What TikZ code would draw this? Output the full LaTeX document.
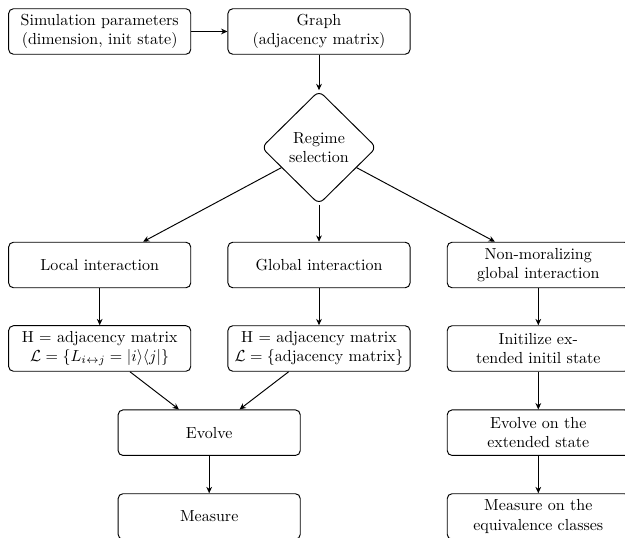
\documentclass[tikz,border=0pt]{standalone}
\usepackage{amsmath}
\usetikzlibrary{shapes.geometric,arrows.meta}
\begin{document}
\begin{tikzpicture}[x=0.625pt,y=-0.625pt,
  box/.style={draw,rectangle,rounded corners=3pt,minimum width=4cm,minimum height=1cm,align=center,semithick},
  regimebox/.style={draw,diamond,rounded corners=4pt,minimum width=72pt,minimum height=71pt,align=center,inner sep=0pt,semithick},
  arr/.style={-{Stealth[length=4pt,width=3.6pt]},semithick}]
\clip (0,0) rectangle (625,538);
\node[box] (sim) at (99.7,31.5) {Simulation parameters\\(dimension, init state)};
\node[box] (graph) at (319,31.5) {Graph\\(adjacency matrix)};
\node[regimebox] (regime) at (319,147.5) {Regime\\selection};
\node[box] (local) at (99.7,265) {Local interaction};
\node[box] (global) at (319,265) {Global interaction};
\node[box] (nonmor) at (538.3,265) {Non-moralizing\\global interaction};
\node[box] (hloc) at (99.7,348.5) {H $=$ adjacency matrix\\$\mathcal{L}=\{L_{i\leftrightarrow j}=|i\rangle\langle j|\}$};
\node[box] (hglob) at (319,348.5) {H $=$ adjacency matrix\\$\mathcal{L}=\{\text{adjacency matrix}\}$};
\node[box] (init) at (538.3,348.5) {Initilize ex-\\tended initil state};
\node[box] (evolve) at (209.2,432.7) {Evolve};
\node[box] (evolveR) at (538.3,432.7) {Evolve on the\\extended state};
\node[box] (measure) at (209.2,516.5) {Measure};
\node[box] (measureR) at (538.3,516.5) {Measure on the\\equivalence classes};
\draw[arr] (sim) -- (graph);
\draw[arr] (graph) -- (regime);
\draw[arr] (regime) -- (local);
\draw[arr] (regime) -- (global);
\draw[arr] (regime) -- (nonmor);
\draw[arr] (local) -- (hloc);
\draw[arr] (global) -- (hglob);
\draw[arr] (nonmor) -- (init);
\draw[arr] (hloc) -- (evolve);
\draw[arr] (hglob) -- (evolve);
\draw[arr] (init) -- (evolveR);
\draw[arr] (evolve) -- (measure);
\draw[arr] (evolveR) -- (measureR);
\end{tikzpicture}
\end{document}
